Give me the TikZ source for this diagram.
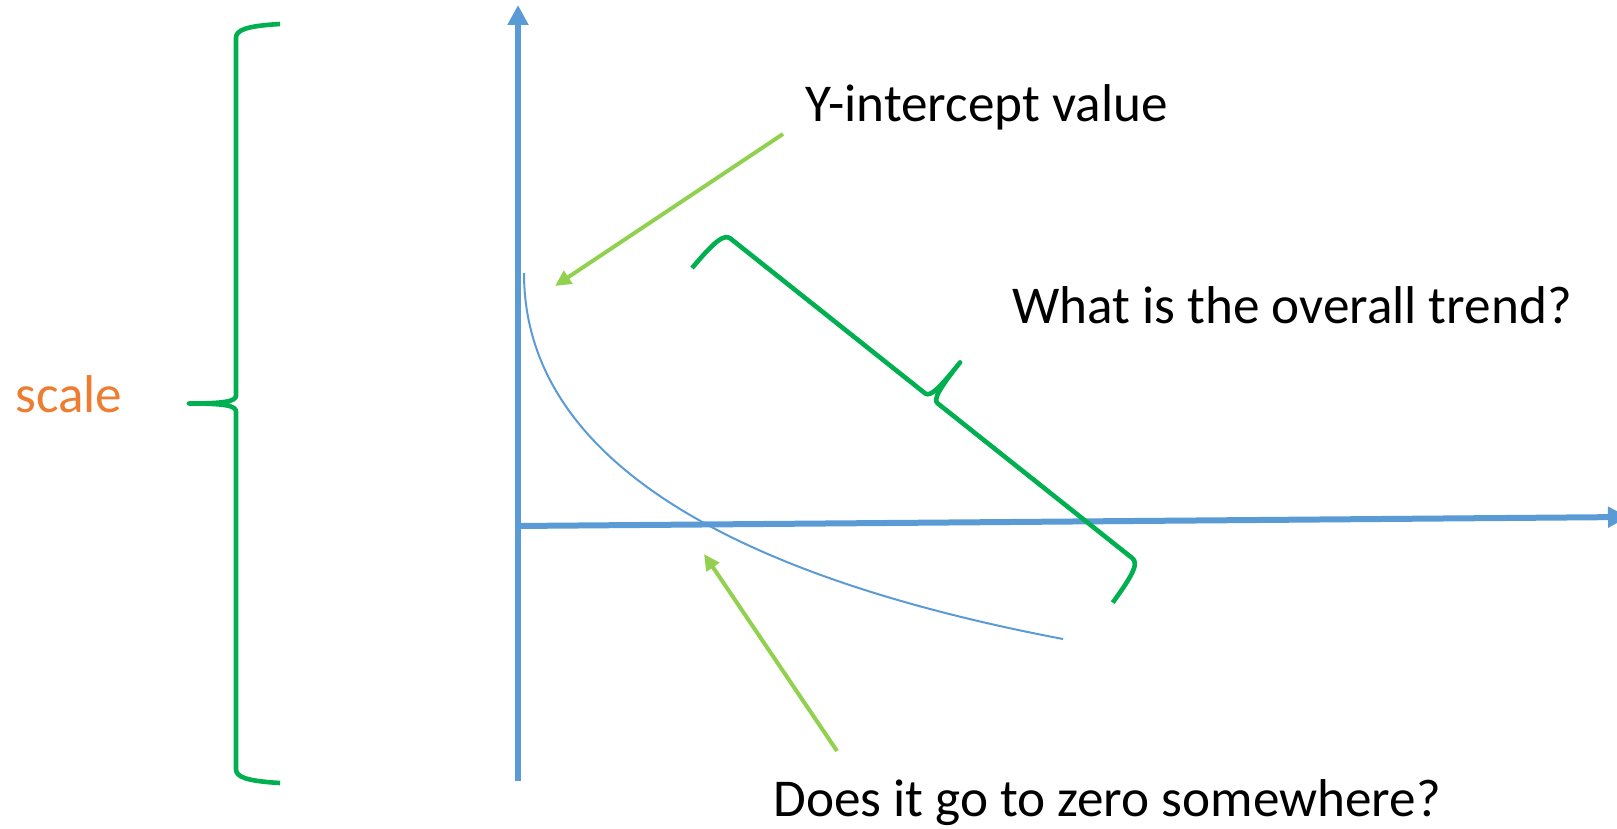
\documentclass[tikz,border=0pt]{standalone}
\usepackage{fontspec}
\setmainfont{Carlito}
\usetikzlibrary{arrows.meta}
\definecolor{axisblue}{HTML}{5B9BD5}
\definecolor{bracegreen}{HTML}{00B050}
\definecolor{arrowgreen}{HTML}{92D050}
\definecolor{scaleorange}{HTML}{ED7D31}

\begin{document}
\begin{tikzpicture}[x=0.5pt, y=-0.5pt,
    axisline/.style={draw=axisblue, line width=3pt, -{Triangle[length=10pt, width=10pt]}},
    pointer/.style={draw=arrowgreen, line width=2pt, -{Triangle[length=8pt, width=7.5pt]}},
    curly/.style={draw=bracegreen, line width=2.3pt, line join=round},
    note/.style={font=\fontsize{26.6}{32}\selectfont, inner sep=0pt, anchor=base west}]
    \useasboundingbox (0,0) rectangle (1617,829);
    \coordinate (ybot) at (518,781);
    \coordinate (ytop) at (518,5);
    \coordinate (xleft) at (516,526);
    \coordinate (xright) at (1628,517);
    \draw[axisline] (ybot) -- (ytop);
    \draw[axisline] (xleft) -- (xright);
    \draw[axisblue, line width=1pt] (524,273) .. controls (524,473) and (763,582) .. (1063,639);
    \begin{scope}[shift={(236,775)}, rotate=90]
      \draw[curly] (-8,44) .. controls (-6,10) and (-2,0) .. (6,0) -- (363.5,0)
        .. controls (369.5,0) and (371.5,-12) .. (371.5,-47)
        .. controls (371.5,-12) and (373.5,0) .. (379.5,0) -- (737,0)
        .. controls (745,0) and (749,10) .. (751,44);
    \end{scope}
    \begin{scope}[shift={(726,235)}, rotate=-38.5]
      \draw[curly] (-6,47) .. controls (-5,10) and (-2,0) .. (6,0) -- (254.5,0)
        .. controls (260.5,0) and (262.5,-12) .. (262.5,-46)
        .. controls (262.5,-12) and (264.5,0) .. (270.5,0) -- (519,0)
        .. controls (527,0) and (530,10) .. (531.5,47);
    \end{scope}
    \node[note, text=scaleorange] (scalelbl) at (15,412) {scale};
    \node[note] (yintlbl) at (805,122) {Y-intercept value};
    \node[note] (trendlbl) at (1012,323) {What is the overall trend?};
    \node[note] (zerolbl) at (773,816) {Does it go to zero somewhere?};
    \coordinate (yinttail) at (783,134);
    \coordinate (yinthead) at (555,286);
    \draw[pointer] (yinttail) -- (yinthead);
    \coordinate (zerotail) at (837,751);
    \coordinate (zerohead) at (704,554);
    \draw[pointer] (zerotail) -- (zerohead);
\end{tikzpicture}
\end{document}
